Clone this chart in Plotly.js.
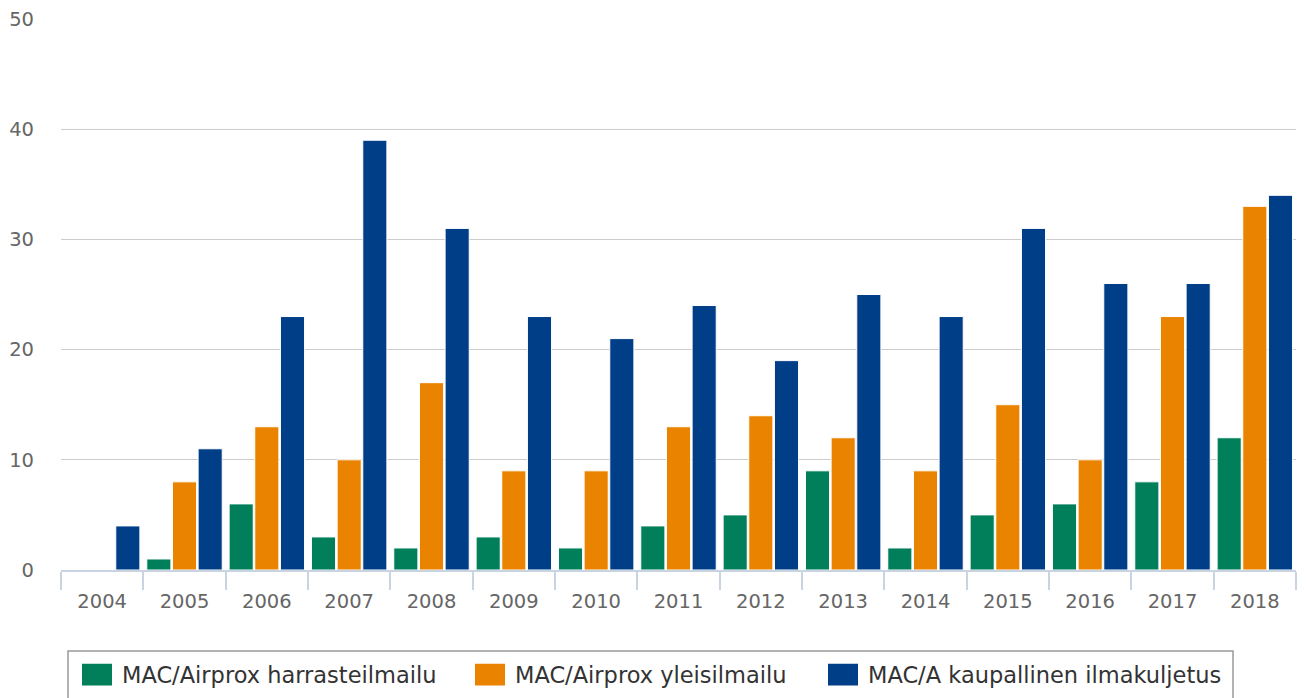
<!DOCTYPE html>
<html>
<head>
<meta charset="utf-8">
<script src="https://cdn.plot.ly/plotly-3.0.1.min.js"></script>
<style>
html,body{margin:0;padding:0;background:#fff;}
#chart{width:1306px;height:698px;}
</style>
</head>
<body>
<div id="chart"></div>
<script>
const years = ['2004','2005','2006','2007','2008','2009','2010','2011','2012','2013','2014','2015','2016','2017','2018'];
const harrasteilmailu = [0,1,6,3,2,3,2,4,5,9,2,5,6,8,12];
const yleisilmailu = [0,8,13,10,17,9,9,13,14,12,9,15,10,23,33];
const kaupallinen = [4,11,23,39,31,23,21,24,19,25,23,31,26,26,34];
const seriesNames = ['MAC/Airprox harrasteilmailu','MAC/Airprox yleisilmailu','MAC/A kaupallinen ilmakuljetus'];
const seriesColors = ['#007f5a','#ea8400','#003f88'];
const yTicks = [0,10,20,30,40,50];

const font = 'DejaVu Sans, Verdana, sans-serif';
const legendKeys = ['legend','legend2','legend3'];
const legendX = [82, 475, 828];

const data = [harrasteilmailu, yleisilmailu, kaupallinen].map((vals,i)=>({
  type:'bar', x:years, y:vals, name:seriesNames[i], legend:legendKeys[i],
  marker:{color:seriesColors[i], line:{color:'#ffffff', width:1}},
  hoverinfo:'x+y+name'
}));

const layout = {
  width:1306, height:698,
  margin:{l:61, r:10, t:19, b:128, pad:0, autoexpand:false},
  paper_bgcolor:'#fff', plot_bgcolor:'#fff',
  font:{family:font, size:19.5, color:'#666'},
  barmode:'group', bargap:0.065, bargroupgap:0.06,
  showlegend:true,
  xaxis:{
    type:'category', tickson:'boundaries', ticks:'outside', ticklen:18, tickwidth:1.5,
    tickcolor:'#c8d4e2', showline:true, linecolor:'#c8d4e2', linewidth:1.5,
    showgrid:false, zeroline:false, fixedrange:true, automargin:false,
    ticklabelstandoff:13,
    tickfont:{family:font, size:19.5, color:'#666'}
  },
  yaxis:{
    range:[0,50], tickvals:yTicks, ticktext:yTicks.map(String),
    showgrid:true, gridcolor:'#cccccc', gridwidth:1, zeroline:false, showline:false,
    ticks:'', ticklabelstandoff:26, fixedrange:true, automargin:false,
    tickfont:{family:font, size:19.5, color:'#666'}
  },
  shapes:[{
    type:'rect', xref:'paper', yref:'paper',
    x0:(68-61)/1235, x1:(1233-61)/1235, y0:(570-651)/551, y1:(570-705)/551,
    line:{color:'#999999', width:1.5}, fillcolor:'rgba(0,0,0,0)', layer:'below'
  }]
};
legendKeys.forEach((k,i)=>{
  layout[k] = {
    orientation:'h', xref:'container', yref:'container',
    x:legendX[i]/1306, xanchor:'left', y:(698-675)/698, yanchor:'middle',
    font:{family:font, size:22.5, color:'#333'},
    itemwidth:30, bgcolor:'rgba(0,0,0,0)'
  };
});

Plotly.newPlot('chart', data, layout, {displayModeBar:false}).then(gd=>{
  const fix = ()=>{
    gd.querySelectorAll('.infolayer .legendpoints path').forEach(p=>{
      p.setAttribute('transform','translate(15,0) scale(2.5,1.83)');
      p.style.strokeWidth = '0';
    });
  };
  fix();
  gd.on('plotly_afterplot', fix);
});
</script>
</body>
</html>
